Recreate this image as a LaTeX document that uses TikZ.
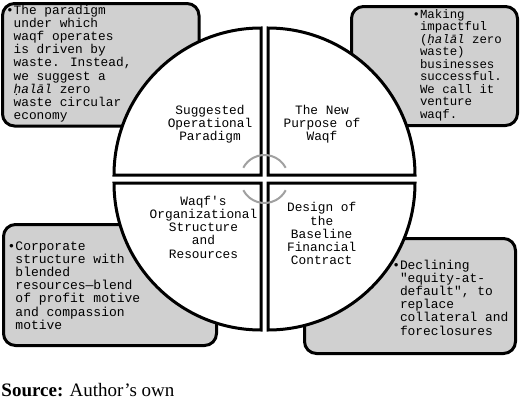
\documentclass[tikz,border=0pt]{standalone}
\usepackage{fontspec}
\setmainfont{Liberation Serif}
\newfontfamily\mono{Liberation Mono}
\definecolor{boxgray}{RGB}{208,208,208}
\definecolor{arcgray}{RGB}{160,160,160}
\newcommand\leftlines[2]{\vtop{\baselineskip=#1\lineskiplimit=-\maxdimen\halign{##\hfil\cr#2\crcr}}}
\newcommand\centerlines[2]{\vtop{\baselineskip=#1\lineskiplimit=-\maxdimen\halign{\hfil##\hfil\cr#2\crcr}}}
\begin{document}
\begin{tikzpicture}[x=1pt,y=1pt,
  box/.style={draw=black, line width=3pt, fill=boxgray, rounded corners=12pt, inner sep=0pt},
  quad/.style={draw=black, line width=3pt, fill=white, line join=miter},
  txt/.style={inner sep=0pt, outer sep=0pt},
  link/.style={draw=arcgray, line width=2pt}]
\useasboundingbox (0,0) rectangle (520,-402);
% gray boxes
\node[box, minimum width=196.5pt, minimum height=122.5pt] (b1) at (100.75,-64.75) {};
\node[box, minimum width=166pt, minimum height=119pt] (b2) at (434.5,-66) {};
\node[box, minimum width=213pt, minimum height=121pt] (b3) at (110,-285) {};
\node[box, minimum width=211pt, minimum height=115pt] (b4) at (410,-296) {};
% box texts
\node[txt, anchor=base west, font=\mono\fontsize{12.8}{13.2}\selectfont] (t1) at (13.7,-14)
  {\leftlines{13.2pt}{\llap{•}The paradigm\cr under which\cr waqf operates\cr is driven by\cr waste. Instead,\cr we suggest a\cr {\itshape ḥalāl} zero\cr waste circular\cr economy}};
\node[txt, anchor=base west, font=\mono\fontsize{12.4}{12.5}\selectfont] (t2) at (420,-18.3)
  {\leftlines{12.5pt}{\llap{•}Making\cr impactful\cr ({\itshape ḥalāl} zero\cr waste)\cr businesses\cr successful.\cr We call it\cr venture\cr waqf.}};
\node[txt, anchor=base west, font=\mono\fontsize{13}{13.2}\selectfont] (t3) at (15.5,-250)
  {\leftlines{13.2pt}{\llap{•}Corporate\cr structure with\cr blended\cr resources—blend\cr of profit motive\cr and compassion\cr motive}};
\node[txt, anchor=base west, font=\mono\fontsize{12.9}{13.2}\selectfont] (t4) at (400,-269)
  {\leftlines{13.2pt}{\llap{•}Declining\cr "equity-at-\cr default", to\cr replace\cr collateral and\cr foreclosures}};
% quadrants
\draw[quad] (261,-175) -- ++(-147,0) arc[start angle=180,end angle=90,radius=147] -- cycle;
\draw[quad] (268,-175) -- ++(0,147) arc[start angle=90,end angle=0,radius=147] -- cycle;
\draw[quad] (268,-183) -- ++(147,0) arc[start angle=0,end angle=-90,radius=147] -- cycle;
\draw[quad] (261,-183) -- ++(0,-147) arc[start angle=270,end angle=180,radius=147] -- cycle;
% quadrant texts
\node[txt, anchor=base, font=\mono\fontsize{12.8}{13.3}\selectfont] (q1) at (210,-114)
  {\centerlines{13.3pt}{Suggested\cr Operational\cr Paradigm}};
\node[txt, anchor=base, font=\mono\fontsize{12.8}{13.3}\selectfont] (q2) at (322,-114)
  {\centerlines{13.3pt}{The New\cr Purpose of\cr Waqf}};
\node[txt, anchor=base, font=\mono\fontsize{12.8}{13.3}\selectfont] (q3) at (203.5,-205)
  {\centerlines{13.3pt}{Waqf\textquotesingle s\cr Organizational\cr Structure\cr and\cr Resources}};
\node[txt, anchor=base, font=\mono\fontsize{12.8}{13.3}\selectfont] (q4) at (321.7,-211.7)
  {\centerlines{13.3pt}{Design of\cr the\cr Baseline\cr Financial\cr Contract}};
% center arcs
\coordinate (c) at (264.5,-179);
\draw[link] (c) ++(28:24) arc[start angle=28,end angle=152,radius=24];
\draw[link] (c) ++(208:24) arc[start angle=208,end angle=332,radius=24];
% source
\node[txt, anchor=base west, font=\fontsize{19}{22}\selectfont] (src) at (1.5,-396)
  {\textbf{Source:} Author's own};
\end{tikzpicture}
\end{document}
